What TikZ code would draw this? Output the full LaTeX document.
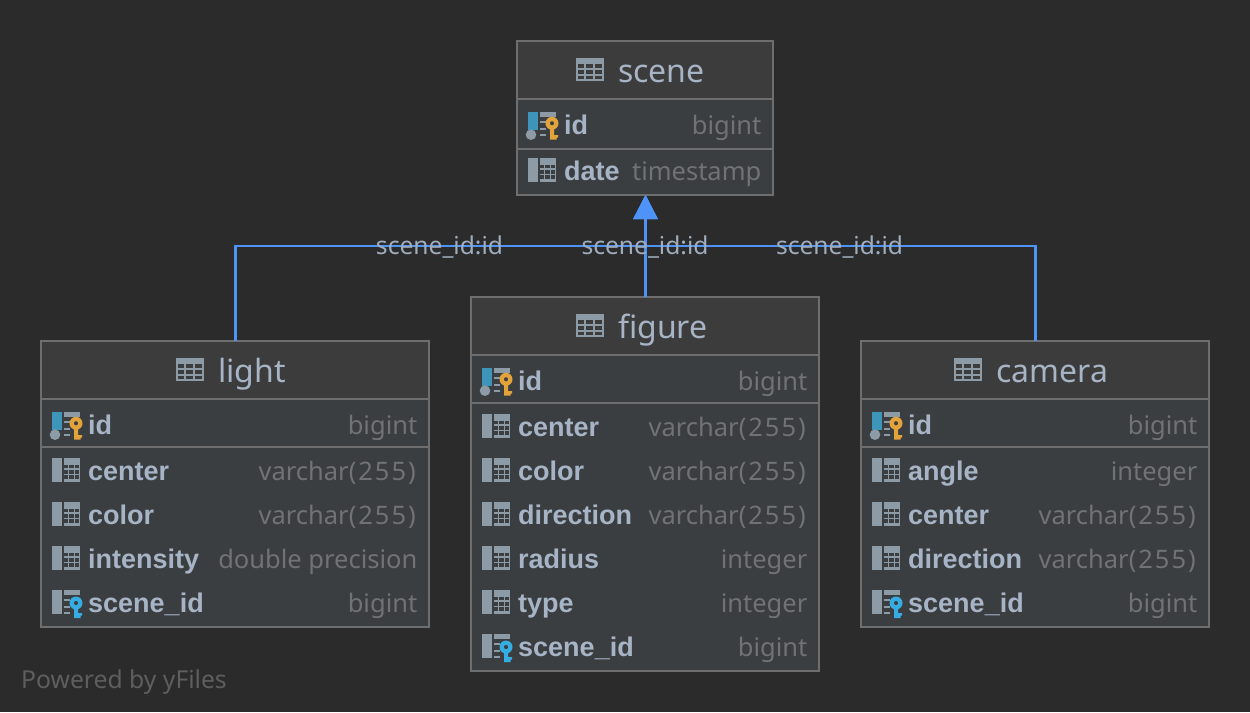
\documentclass[tikz,border=0pt]{standalone}
\usepackage{fontspec}
\setmainfont{Noto Sans}
\newfontfamily\namefont{Liberation Sans}
\usetikzlibrary{arrows.meta}
\definecolor{bgc}{HTML}{2B2B2B}
\definecolor{headc}{HTML}{3C3C3C}
\definecolor{rowc}{HTML}{3B3E41}
\definecolor{linec}{HTML}{6E6E6E}
\definecolor{textc}{HTML}{A6B4C5}
\definecolor{typec}{HTML}{707274}
\definecolor{iconc}{HTML}{8D9BA6}
\definecolor{edgec}{HTML}{4E94F8}
\definecolor{pkblue}{HTML}{3D96B9}
\definecolor{keyo}{HTML}{E3A33B}
\definecolor{keyc}{HTML}{35ADE3}
\definecolor{footc}{HTML}{5E5E5E}
\newcommand{\vcsize}{varchar(\kern2pt 2\kern2pt 5\kern2pt 5\kern2pt )\kern1.5pt}
\tikzset{
  tablebox/.style={draw=linec,line width=2pt,fill=rowc,inner sep=0pt,outer sep=0pt},
  sepline/.style={draw=linec,line width=2pt},
  titletext/.style={anchor=base west,inner sep=0pt,text=textc,font=\fontsize{32}{36}\selectfont},
  colname/.style={anchor=base west,inner sep=0pt,text=textc,font=\namefont\fontsize{27}{30}\selectfont\bfseries},
  coltype/.style={anchor=base east,inner sep=0pt,text=typec,font=\fontsize{25.5}{30}\selectfont},
  edgeline/.style={draw=edgec,line width=2.4pt},
  edgetip/.style={-{Triangle[length=24pt,width=24pt,fill=edgec]}},
  edgelabel/.style={anchor=base,inner sep=0pt,text=textc!96!black,font=\fontsize{24.6}{28}\selectfont},
  footer/.style={anchor=base west,inner sep=0pt,text=footc,font=\fontsize{24.7}{28}\selectfont},
  headicon/.pic={
    \fill[iconc] (0,-12) rectangle (28,11);
    \foreach \yy/\yh in {-6/-2,0/4,5.7/9}{
      \foreach \xa/\xb in {2/8,10/17.3,19.3/26}{
        \fill[headc] (\xa,\yy) rectangle (\xb,\yh);
      }
    }
  },
  colicon/.pic={
    \fill[iconc] (0,-13) rectangle (10,11);
    \fill[iconc] (12,-13) rectangle (28,11);
    \foreach \yy/\yh in {-6.5/-3,-1.5/2.5,4/8}{
      \foreach \xa/\xb in {12/16,17/21.5,23/27}{
        \fill[rowc] (\xa,\yy) rectangle (\xb,\yh);
      }
    }
  },
  tablepart/.pic={
    \fill[iconc] (12,-13) rectangle (28,-7.7);
    \fill[iconc] (12,-4) rectangle (18,-2);
    \fill[iconc] (12,2.7) rectangle (18,4.7);
    \fill[iconc] (12,8.7) rectangle (18,10.7);
  },
  pkicon/.pic={
    \fill[pkblue] (0,-13) rectangle (10,5);
    \fill[iconc] (3,9.7) circle (5.3);
    \pic {tablepart};
    \fill[keyo,even odd rule] (24,-1.7) circle (6.5) (24,-1.7) circle (2.2);
    \fill[keyo] (22,3) rectangle (26,14.7) (26,10) rectangle (30,12.5) (26,12.5) rectangle (28.5,14.7);
  },
  fkicon/.pic={
    \fill[iconc] (0,-13) rectangle (10,11);
    \pic {tablepart};
    \fill[keyc,even odd rule] (24,0) circle (6.5) (24,0) circle (2.2);
    \fill[keyc] (22,4) rectangle (26,15) (26,10) rectangle (30,12.5) (26,12.5) rectangle (28.5,15);
  }
}
% table frame: name, left, top, right, bottom, header bottom, first separator
\newcommand{\dbframe}[7]{%
  \node[tablebox,minimum width=#4pt-#2pt,minimum height=#5pt-#3pt] (#1) at ({(#2+#4)/2},{(#3+#5)/2}) {};
  \fill[headc] (#2+1,#3+1) rectangle (#4-1,#6);
  \draw[sepline] (#2,#6) -- (#4,#6);
  \draw[sepline] (#2,#7) -- (#4,#7);
}
% row: table, key, icon, left, right, center y, name, type
\newcommand{\dbrow}[8]{%
  \pic at (#4+11,#6) {#3};
  \node[colname] (#1#2n) at (#4+47,#6+9) {#7};
  \node[coltype] (#1#2t) at (#5-11.5,#6+9) {#8};
}
\begin{document}
\begin{tikzpicture}[x=1pt,y=-1pt]
\useasboundingbox (0,0) rectangle (1250,712);
\fill[bgc] (0,0) rectangle (1250,712);

% ---- scene
\dbframe{scene}{517}{41}{773}{195}{99}{149}
\pic at (576,70) {headicon};
\node[titletext] (scenetitle) at (618,82) {scene};
\dbrow{scene}{a}{pkicon}{517}{773}{125}{id}{bigint}
\dbrow{scene}{b}{colicon}{517}{773}{171}{date}{timestamp}

% ---- light
\dbframe{light}{41}{341}{429}{627}{399}{447}
\pic at (176,370) {headicon};
\node[titletext] (lighttitle) at (218,382) {light};
\dbrow{light}{a}{pkicon}{41}{429}{425}{id}{bigint}
\dbrow{light}{b}{colicon}{41}{429}{471}{center}{\vcsize}
\dbrow{light}{c}{colicon}{41}{429}{515}{color}{\vcsize}
\dbrow{light}{d}{colicon}{41}{429}{559}{intensity}{double precision}
\dbrow{light}{e}{fkicon}{41}{429}{603}{scene\_id}{bigint}

% ---- figure
\dbframe{figure}{471}{297}{819}{671}{355}{403}
\pic at (576,326) {headicon};
\node[titletext] (figuretitle) at (618,338) {figure};
\dbrow{figure}{a}{pkicon}{471}{819}{381}{id}{bigint}
\dbrow{figure}{b}{colicon}{471}{819}{427}{center}{\vcsize}
\dbrow{figure}{c}{colicon}{471}{819}{471}{color}{\vcsize}
\dbrow{figure}{d}{colicon}{471}{819}{515}{direction}{\vcsize}
\dbrow{figure}{e}{colicon}{471}{819}{559}{radius}{integer}
\dbrow{figure}{f}{colicon}{471}{819}{603}{type}{integer}
\dbrow{figure}{g}{fkicon}{471}{819}{647}{scene\_id}{bigint}

% ---- camera
\dbframe{camera}{861}{341}{1209}{627}{399}{447}
\pic at (954,370) {headicon};
\node[titletext] (cameratitle) at (996,382) {camera};
\dbrow{camera}{a}{pkicon}{861}{1209}{425}{id}{bigint}
\dbrow{camera}{b}{colicon}{861}{1209}{471}{angle}{integer}
\dbrow{camera}{c}{colicon}{861}{1209}{515}{center}{\vcsize}
\dbrow{camera}{d}{colicon}{861}{1209}{559}{direction}{\vcsize}
\dbrow{camera}{e}{fkicon}{861}{1209}{603}{scene\_id}{bigint}

% ---- connectors
\coordinate (busy) at (645.5,246);
\draw[edgeline,edgetip] ([xshift=.5pt]light.north) |- (busy) -- ([xshift=.5pt]scene.south);
\draw[edgeline,edgetip] ([xshift=.5pt]figure.north) -- ([xshift=.5pt]scene.south);
\draw[edgeline,edgetip] ([xshift=.5pt]camera.north) |- (busy) -- ([xshift=.5pt]scene.south);

\node[edgelabel] (lbla) at (439.5,254) {scene\_id:id};
\node[edgelabel] (lblb) at (645,254) {scene\_id:id};
\node[edgelabel] (lblc) at (839.5,254) {scene\_id:id};

\node[footer] (powered) at (21,688) {Powered by yFiles};
\end{tikzpicture}
\end{document}
